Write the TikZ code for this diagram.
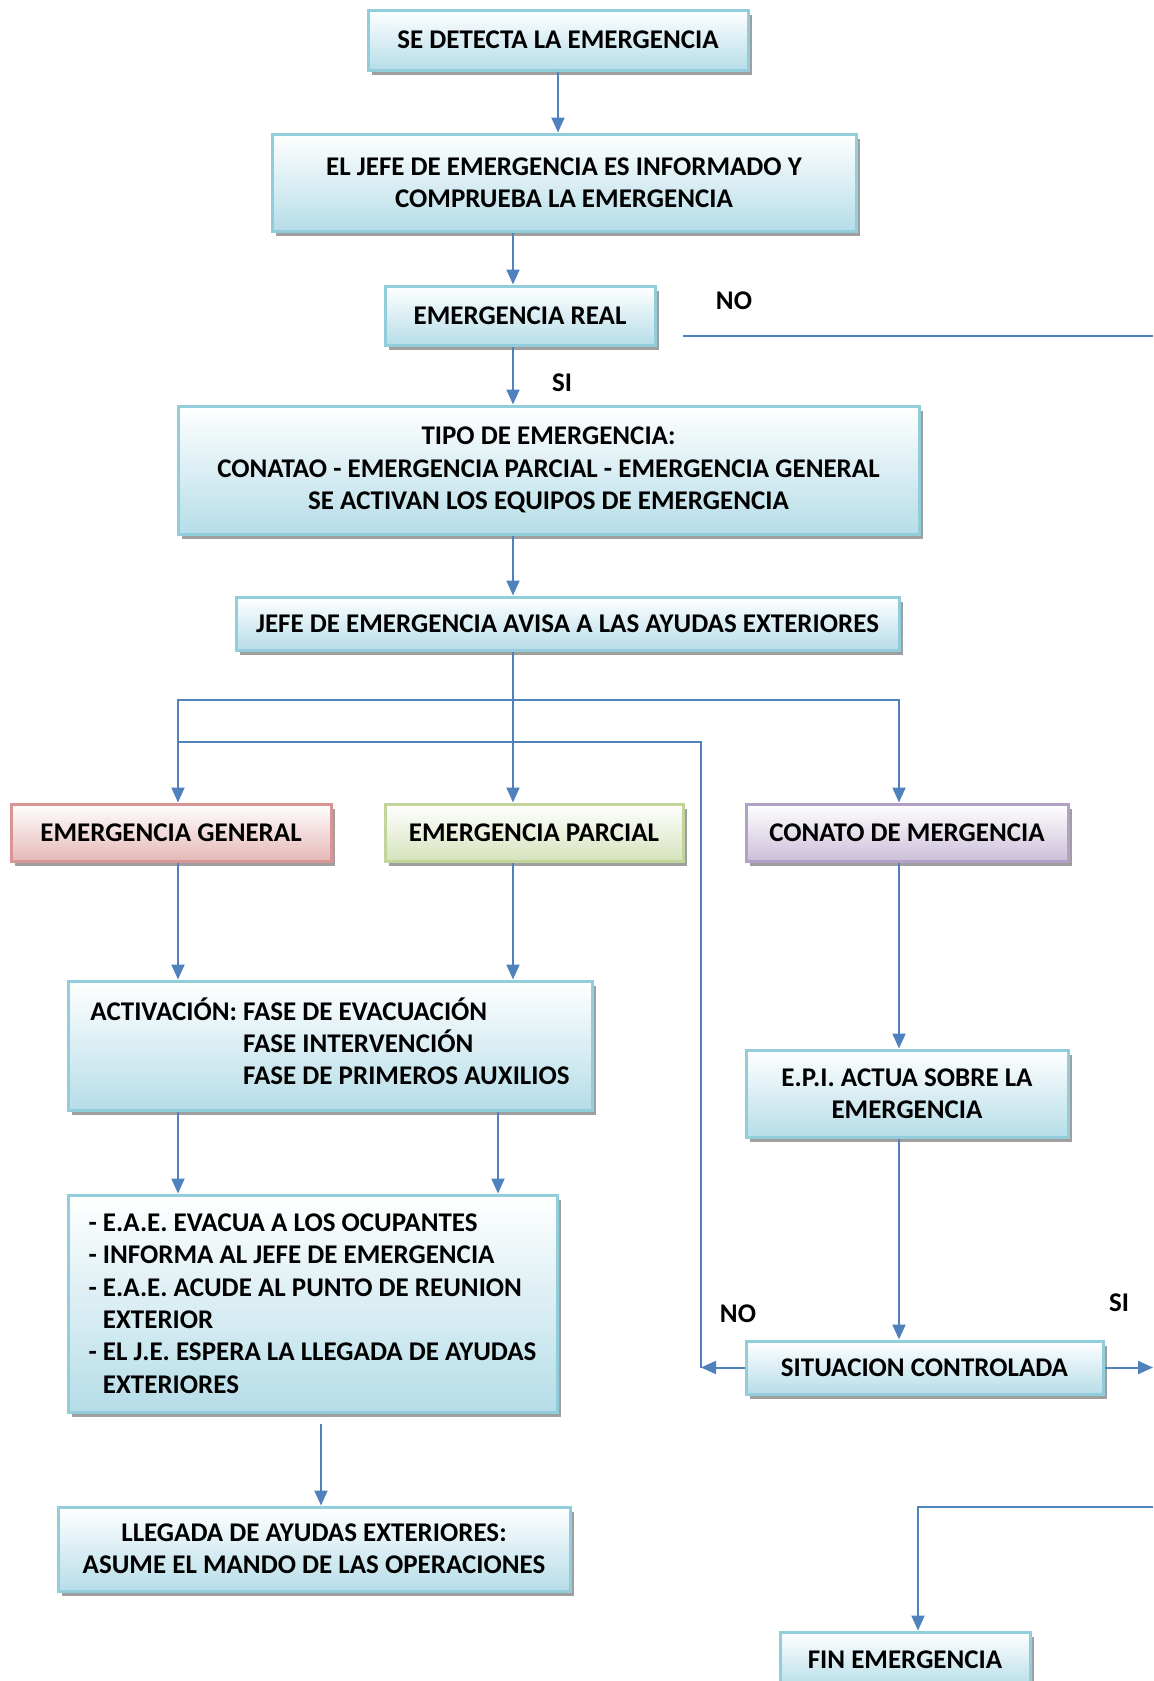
\documentclass[tikz,border=0pt]{standalone}
\usepackage{fontspec}
\setmainfont{Carlito}
\usepackage{tikz}
\usetikzlibrary{arrows.meta,shadows}
\definecolor{azullinea}{HTML}{4F81BD}
\definecolor{azulborde}{HTML}{92CDDC}
\definecolor{azulfondo}{HTML}{B6DDE8}
\definecolor{rojoborde}{HTML}{D99594}
\definecolor{rojofondo}{HTML}{E5B8B7}
\definecolor{verdeborde}{HTML}{C2D69B}
\definecolor{verdefondo}{HTML}{D6E3BC}
\definecolor{moradoborde}{HTML}{B2A1C7}
\definecolor{moradofondo}{HTML}{CCC0D9}
\tikzset{
  caja/.style={draw=azulborde, line width=1.5pt, top color=white, bottom color=azulfondo,
    drop shadow={shadow xshift=2pt, shadow yshift=-2.5pt, fill=gray!75, opacity=1},
    font=\bfseries\fontsize{13.5}{16.2}\selectfont, align=center, inner sep=0pt},
  roja/.style={caja, draw=rojoborde, bottom color=rojofondo},
  verde/.style={caja, draw=verdeborde, bottom color=verdefondo},
  morada/.style={caja, draw=moradoborde, bottom color=moradofondo},
  conector/.style={draw=azullinea, line width=1pt},
  flecha/.style={conector, -{Triangle[width=6.5pt,length=7.5pt]}},
  flechas/.style={conector, {Triangle[width=6.5pt,length=7.5pt]}-{Triangle[width=6.5pt,length=7.5pt]}},
  etq/.style={font=\bfseries\fontsize{13.5}{16.2}\selectfont},
}
\begin{document}
\begin{tikzpicture}[x=0.5pt,y=-0.5pt]
  \useasboundingbox (0,0) rectangle (1153,1681);
  \node[caja, minimum width=190pt, minimum height=30pt] (detecta) at (558,40) {SE DETECTA LA EMERGENCIA};
  \node[caja, minimum width=292pt, minimum height=48.5pt] (informa) at (564,182.5) {EL JEFE DE EMERGENCIA ES INFORMADO Y\\COMPRUEBA LA EMERGENCIA};
  \node[caja, minimum width=135pt, minimum height=29.5pt] (real) at (520,315.5) {EMERGENCIA REAL};
  \node[caja, minimum width=370.5pt, minimum height=64pt] (tipo) at (548.5,470) {TIPO DE EMERGENCIA:\\CONATAO - EMERGENCIA PARCIAL - EMERGENCIA GENERAL\\SE ACTIVAN LOS EQUIPOS DE EMERGENCIA};
  \node[caja, minimum width=331.5pt, minimum height=26.5pt] (avisa) at (567.5,623.5) {JEFE DE EMERGENCIA AVISA A LAS AYUDAS EXTERIORES};
  \node[roja, minimum width=160pt, minimum height=28.5pt] (general) at (171,832.5) {EMERGENCIA GENERAL};
  \node[verde, minimum width=149pt, minimum height=28.5pt] (parcial) at (534,832.5) {EMERGENCIA PARCIAL};
  \node[morada, minimum width=161pt, minimum height=28.5pt] (conato) at (907,832.5) {CONATO DE MERGENCIA};
  \node[caja, align=left, minimum width=262pt, minimum height=64.5pt] (activa) at (330,1045.5) {ACTIVACIÓN: FASE DE EVACUACIÓN\\\hphantom{ACTIVACIÓN: }FASE INTERVENCIÓN\\\hphantom{ACTIVACIÓN: }FASE DE PRIMEROS AUXILIOS\\[-11.8pt]};
  \node[caja, minimum width=161pt, minimum height=43.5pt] (epi) at (907,1093.5) {E.P.I. ACTUA SOBRE LA\\EMERGENCIA};
  \node[caja, align=left, minimum width=244.5pt, minimum height=108.5pt] (eae) at (312.5,1303.5) {- E.A.E. EVACUA A LOS OCUPANTES\\- INFORMA AL JEFE DE EMERGENCIA\\- E.A.E. ACUDE AL PUNTO DE REUNION\\\hphantom{- }EXTERIOR\\- EL J.E. ESPERA LA LLEGADA DE AYUDAS\\\hphantom{- }EXTERIORES};
  \node[caja, minimum width=178.5pt, minimum height=26.5pt] (controlada) at (924.5,1367.5) {SITUACION CONTROLADA};
  \node[caja, minimum width=256pt, minimum height=42pt] (llegada) at (314,1549) {LLEGADA DE AYUDAS EXTERIORES:\\ASUME EL MANDO DE LAS OPERACIONES};
  \node[caja, minimum width=125pt, minimum height=28pt] (fin) at (905,1660) {FIN EMERGENCIA};
  \node[etq] (si1) at (562,383) {SI};
  \node[etq] (no1) at (734,301) {NO};
  \node[etq] (no2) at (738,1314) {NO};
  \node[etq] (si2) at (1119,1303) {SI};
  \coordinate (eje) at (513,0);
  \coordinate (izq) at (178,0);
  \coordinate (der) at (899,0);
  \coordinate (vuelta) at (701,0);
  \coordinate (bajada) at (918,0);
  \coordinate (eaebaja) at (321,0);
  \coordinate (activb) at (498,0);
  \coordinate (borde) at (1153,0);
  \coordinate (ramal) at (0,700);
  \coordinate (ramalb) at (0,742);
  \coordinate (noini) at (683,336);
  \coordinate (nofin) at (1153,336);
  \coordinate (retorno) at (1153,1507);
  \draw[flecha] (detecta.south) -- (detecta.south |- informa.north);
  \draw[flecha] (informa.south -| eje) -- (real.north -| eje);
  \draw[flecha] (real.south -| eje) -- (tipo.north -| eje);
  \draw[conector] (noini) -- (nofin);
  \draw[flecha] (tipo.south -| eje) -- (avisa.north -| eje);
  \draw[flecha] (avisa.south -| eje) -- (parcial.north -| eje);
  \draw[flechas] (general.north -| izq) -- (izq |- ramal) -- (der |- ramal) -- (conato.north -| der);
  \draw[conector] (izq |- ramalb) -- (vuelta |- ramalb) -- (vuelta |- controlada.west);
  \draw[flecha] (general.south -| izq) -- (activa.north -| izq);
  \draw[flecha] (parcial.south -| eje) -- (activa.north -| eje);
  \draw[flecha] (conato.south -| der) -- (epi.north -| der);
  \draw[flecha] (epi.south -| der) -- (controlada.north -| der);
  \draw[flecha] (activa.south -| izq) -- (eae.north -| izq);
  \draw[flecha] (activa.south -| activb) -- (eae.north -| activb);
  \draw[flecha, shorten <=5pt] (eae.south -| eaebaja) -- (llegada.north -| eaebaja);
  \draw[flecha] (controlada.west) -- (controlada.west -| vuelta);
  \draw[flecha] (controlada.east) -- (controlada.east -| borde);
  \draw[flecha] (retorno) -- (bajada |- retorno) -- (fin.north -| bajada);
\end{tikzpicture}
\end{document}
